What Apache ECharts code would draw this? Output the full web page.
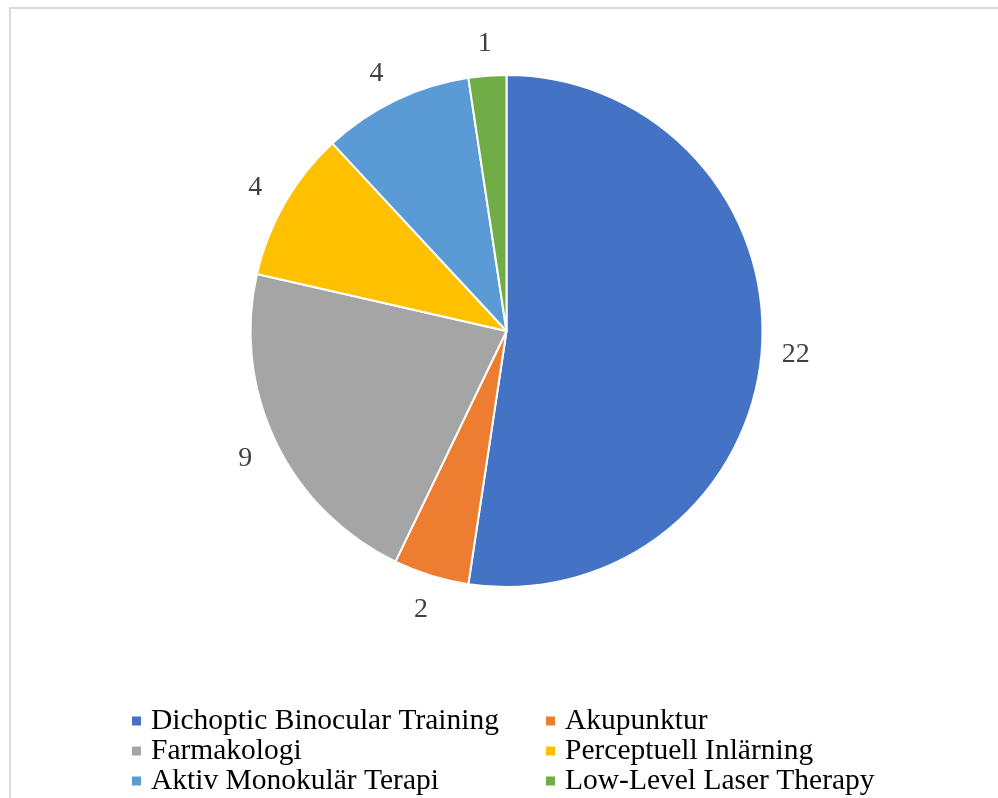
<!DOCTYPE html>
<html><head><meta charset="utf-8">
<script src="https://cdn.jsdelivr.net/npm/echarts@6/dist/echarts.min.js"></script>
<style>html,body{margin:0;padding:0;background:#fff}#c{width:998px;height:798px}</style>
</head><body><div id="c"></div>
<script>
const categories = ['Dichoptic Binocular Training','Akupunktur','Farmakologi','Perceptuell Inlärning','Aktiv Monokulär Terapi','Low-Level Laser Therapy'];
const values = [22, 2, 9, 4, 4, 1];
const colors = ['#4472C4','#ED7D31','#A5A5A5','#FFC000','#5B9BD5','#70AD47'];
const legendCol1 = ['Dichoptic Binocular Training','Farmakologi','Aktiv Monokulär Terapi'];
const legendCol2 = ['Akupunktur','Perceptuell Inlärning','Low-Level Laser Therapy'];

const chart = echarts.init(document.getElementById('c'));
const font = '"Liberation Serif","Times New Roman",serif';
const legendBase = {
  orient: 'vertical', top: 706, height: 120, padding: 0, itemWidth: 11, itemHeight: 11, itemGap: 0,
  icon: 'rect', selectedMode: false,
  textStyle: { fontFamily: font, fontSize: 29.5, color: '#000', lineHeight: 29.5, padding: [0,0,0,4] }
};
chart.setOption({
  animation: false,
  color: colors,
  graphic: [{ type: 'rect', shape: { x: 10, y: 8, width: 1000, height: 800 }, style: { fill: 'none', stroke: '#d9d9d9', lineWidth: 2 }, silent: true }],
  legend: [
    Object.assign({}, legendBase, { left: 130, data: legendCol1 }),
    Object.assign({}, legendBase, { left: 544, data: legendCol2 })
  ],
  series: [{
    type: 'pie',
    center: [506.5, 331],
    radius: [0, 256],
    startAngle: 90,
    clockwise: true,
    data: categories.map((n, i) => ({ name: n, value: values[i] })),
    itemStyle: { borderColor: '#fff', borderWidth: 2 },
    label: { show: true, position: 'outside', formatter: '{c}', fontFamily: font, fontSize: 28, color: '#404040', distanceToLabelLine: 0 },
    labelLine: { show: false, length: 34, length2: 0 },
    labelLayout: { align: 'center', dy: 2 },
    emphasis: { disabled: true }
  }]
});
</script></body></html>
